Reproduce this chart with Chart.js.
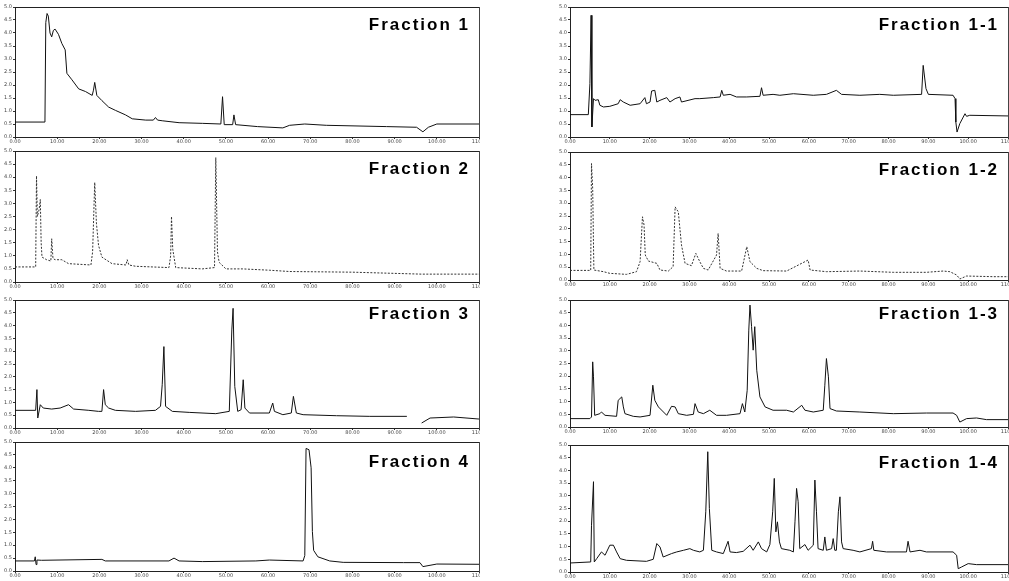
<!DOCTYPE html>
<html lang="en">
<head>
<meta charset="UTF-8">
<title>Fraction chromatograms</title>
<style>
    body {
        margin: 0;
        background: #fff;
        width: 1009px;
        height: 581px;
        overflow: hidden;
        position: relative;
        font-family: "Liberation Sans", Arial, sans-serif;
    }

    .panel {
        position: absolute;
    }

    .left {
        left: 0;
        width: 480px;
    }

    .right {
        left: 555px;
        width: 454px;
    }
</style>
</head>
<body>
<div class="panel left" style="top:4px;height:142px"><canvas id="f1"></canvas></div>
<div class="panel left" style="top:148px;height:143px"><canvas id="f2"></canvas></div>
<div class="panel left" style="top:297px;height:140px"><canvas id="f3"></canvas></div>
<div class="panel left" style="top:439px;height:141px"><canvas id="f4"></canvas></div>
<div class="panel right" style="top:4px;height:142px"><canvas id="g1"></canvas></div>
<div class="panel right" style="top:149px;height:140px"><canvas id="g2"></canvas></div>
<div class="panel right" style="top:297px;height:139px"><canvas id="g3"></canvas></div>
<div class="panel right" style="top:442px;height:139px"><canvas id="g4"></canvas></div>

<script src="https://cdn.jsdelivr.net/npm/chart.js"></script>
<script>
    // tick labels (retention time in min, detector response)
    const xTickLabels = ['0.00', '10.00', '20.00', '30.00', '40.00', '50.00', '60.00', '70.00', '80.00', '90.00', '100.00', '110.0'];
    const yTickLabels = ['0.0', '0.5', '1.0', '1.5', '2.0', '2.5', '3.0', '3.5', '4.0', '4.5', '5.0'];

    // Fraction 1
    const f1Time = [0, 7.1, 7.3, 7.6, 7.9, 8.3, 8.7, 9.1, 9.5, 10.3, 11.1, 11.9, 12.3, 13.5, 15.1, 16.7, 18.3, 18.6, 18.9, 19.4, 20.6, 22.2, 23.8, 26.2, 27.8, 31.0, 32.8, 33.3, 33.8, 34.9, 38.9, 44.4, 48.8, 49.2, 49.6, 51.6, 51.9, 52.3, 57.5, 63.5, 65.1, 68.7, 73.8, 88.1, 95.2, 96.7, 98.0, 100, 110];
    const f1Signal = [11.5, 11.5, 88, 95, 93, 80, 77, 82, 83, 79, 72, 67, 49, 44, 37, 35, 32, 36, 42, 32, 28, 23, 20.5, 17, 14, 13, 13, 15, 13, 12.5, 11, 10.5, 10, 31, 9.5, 9.5, 17, 9.5, 8, 7, 9, 10, 9, 8, 7.5, 4, 7.5, 10, 10];

    // Fraction 2
    const f2Time = [0, 4.9, 5.1, 5.3, 5.7, 6.0, 6.2, 6.4, 7.5, 8.5, 8.7, 9.0, 9.5, 11.1, 12.7, 18.0, 18.4, 18.9, 19.3, 19.8, 20.6, 23.0, 26.3, 26.6, 27.0, 28.6, 36.5, 36.9, 37.1, 37.4, 38.1, 44.4, 47.3, 47.6, 48.0, 48.4, 50.0, 54.0, 60.3, 65.1, 80, 96.4, 110];
    const f2Signal = [11.5, 11.5, 81, 50, 55, 63, 30, 19, 17, 16, 33, 18, 17, 17, 14, 13, 23, 76, 45, 28, 19, 14, 13, 17, 13, 12, 11, 20, 50, 25, 11, 10, 11, 95, 23, 15, 10, 10, 9, 8, 7.5, 6, 6];

    // Fraction 3
    const f3Time = [0, 4.9, 5.2, 5.4, 6.0, 6.7, 8.7, 10.7, 12.7, 13.9, 17.5, 19.8, 20.6, 21.0, 21.4, 22.2, 23.8, 28.6, 33.3, 34.5, 34.9, 35.3, 35.7, 37.3, 41.3, 47.6, 50.8, 51.4, 51.7, 52.1, 52.8, 53.6, 54.1, 54.5, 55.6, 60.3, 61.1, 61.5, 63.5, 65.5, 66.0, 66.7, 68.3, 76.2, 84.1, 92.9, 94.5, 96.4, 98.4, 104, 110];
    const f3Signal = [13.8, 13.8, 30, 7.8, 18.2, 15.6, 14.8, 15.6, 18.2, 14.8, 13.8, 13, 13, 30, 18.2, 15.6, 13.8, 13, 13.8, 16.9, 33.8, 63.6, 16.9, 13, 12.2, 11.2, 13, 76.6, 93.5, 32.5, 13, 14.3, 37.7, 15.6, 11.7, 11.7, 19.5, 13, 10.4, 11.7, 24.7, 11.7, 10.4, 9.6, 9.1, 9.1, null, 3.9, 7.8, 8.6, 7];

    // Fraction 4
    const f4Time = [0, 4.6, 4.8, 5.0, 5.2, 6.3, 20.6, 21.4, 36.5, 37.7, 38.9, 44.4, 57.1, 60.3, 68.3, 68.7, 69.0, 69.7, 70.2, 70.5, 70.8, 71.8, 74.6, 77.8, 92.1, 96.0, 96.7, 100, 110];
    const f4Signal = [7.8, 7.8, 11, 5, 8.5, 8.3, 9, 7.8, 7.8, 10, 7.8, 7.3, 7.8, 8.5, 7.8, 12, 95, 94, 80, 30.6, 16, 11, 7.8, 6.7, 6.5, 6.5, 3.4, 5.4, 5.2];

    // Fraction 1-1
    const g1Time = [0, 4.6, 5.0, 5.3, 5.5, 5.9, 6.3, 7.1, 7.5, 8.4, 10.0, 12.1, 12.6, 13.4, 15.1, 17.6, 18.8, 19.2, 20.1, 20.5, 21.3, 21.8, 22.6, 24.3, 25.1, 26.4, 27.6, 28.0, 31.4, 32.6, 36.0, 37.7, 38.1, 38.5, 40.2, 41.8, 44.4, 47.7, 48.1, 48.5, 51.0, 52.7, 56.1, 61.1, 64.4, 66.9, 68.2, 72.8, 77.8, 81.2, 88.3, 88.7, 89.4, 90.0, 96.2, 96.7, 96.9, 97.2, 97.9, 99.2, 99.6, 100.4, 110];
    const g1Signal = [17.2, 17.2, 41, 93.6, 7.7, 29.5, 28.2, 28.7, 24.4, 23.1, 23.6, 25.6, 28.7, 26.9, 24.4, 25.6, 30.3, 25.6, 26.9, 35.4, 35.9, 26.9, 28.2, 30.3, 26.9, 29.5, 30.8, 26.9, 29.5, 29.5, 30.3, 30.8, 35.9, 32.1, 32.8, 30.8, 30.8, 31.3, 37.9, 32.1, 32.8, 32.1, 33.3, 32.1, 32.8, 35.9, 32.8, 32.1, 32.8, 32.1, 32.8, 55.1, 37.2, 32.8, 32.1, 29.5, 11.5, 3.8, 10.3, 17.9, 15.9, 16.7, 16.2];

    // Fraction 1-2
    const g2Time = [0, 5.2, 5.4, 5.7, 5.9, 6.0, 8.4, 10.0, 14.2, 16.7, 17.6, 18.2, 18.6, 18.9, 19.7, 21.8, 22.6, 24.7, 25.9, 26.4, 27.2, 28.0, 28.9, 30.5, 31.6, 32.6, 33.5, 34.7, 36.8, 37.2, 37.7, 39.3, 43.1, 44.4, 45.2, 46.9, 48.5, 54.4, 59.8, 60.3, 64.4, 72.8, 81.2, 89.5, 93.7, 95.4, 97.1, 97.9, 99.6, 106.3, 110];
    const g2Signal = [7.5, 7.5, 91, 71.4, 27.3, 7.8, 6.5, 5.2, 4.4, 6.5, 14.3, 49.4, 42.9, 19.5, 14.8, 13, 7.8, 7, 10.4, 57.1, 53.2, 27.3, 13, 11.2, 20.8, 14.3, 9.1, 7.8, 19.5, 36.4, 9.1, 7, 7, 26, 14.3, 9.1, 7.3, 7, 15.6, 7.8, 6.5, 7, 6, 6, 7, 6.5, 3.9, 0.8, 3.1, 2.6, 2.6];

    // Fraction 1-3
    const g3Time = [0, 5.0, 5.4, 5.7, 5.9, 6.2, 7.5, 7.9, 8.8, 11.7, 12.1, 13.0, 13.4, 13.8, 15.9, 17.6, 20.1, 20.8, 21.3, 22.2, 24.3, 25.5, 26.4, 27.2, 29.3, 31.0, 31.4, 32.2, 33.5, 35.1, 36.8, 39.3, 42.7, 43.3, 43.9, 44.5, 44.9, 45.2, 45.6, 46.0, 46.4, 46.9, 47.7, 49.0, 51.0, 54.4, 56.1, 58.2, 59.0, 61.1, 63.6, 64.0, 64.4, 64.9, 65.3, 66.9, 72.8, 81.2, 89.5, 96.2, 97.1, 97.9, 99.6, 102.1, 104.6, 110];
    const g3Signal = [6.6, 6.6, 7.9, 51.3, 39.5, 9.2, 10.5, 11.8, 9.2, 8.4, 21, 23.7, 15.8, 10.5, 8.4, 7.9, 9.2, 32.9, 21, 15.8, 9.2, 16.3, 15.8, 10.5, 9.2, 10, 18.4, 11.8, 10.5, 13.2, 9.2, 9.2, 10.5, 18.4, 11.8, 28.9, 76.3, 96, 79, 60.5, 79, 44.7, 23.7, 15.8, 13.2, 13.2, 11.8, 17.1, 13.2, 11.8, 13.2, 32.9, 53.9, 39.5, 14.5, 12.6, 11.8, 10.5, 11, 11, 9.2, 3.9, 6.6, 7.1, 5.8, 5.8];

    // Fraction 1-4
    const g4Time = [0, 5.2, 5.4, 5.9, 6.1, 6.7, 7.9, 8.8, 10.0, 10.9, 11.7, 12.6, 14.2, 19.2, 20.9, 21.8, 22.6, 23.4, 25.5, 26.8, 28.5, 30.1, 31.0, 32.6, 33.5, 34.1, 34.6, 35.0, 35.6, 36.8, 38.5, 39.7, 40.2, 41.8, 43.5, 45.2, 46.0, 47.3, 48.1, 49.4, 50.2, 50.9, 51.3, 51.7, 52.1, 52.6, 53.1, 55.2, 56.1, 56.5, 56.9, 57.3, 57.7, 59.0, 59.8, 61.1, 61.5, 61.9, 62.3, 63.6, 64.0, 64.4, 65.7, 66.1, 66.5, 66.9, 67.4, 67.8, 68.2, 68.6, 71.1, 72.8, 75.7, 76.0, 76.3, 79.5, 84.5, 84.9, 85.4, 87.9, 89.5, 96.2, 97.1, 97.5, 98.3, 100, 102.1, 110];
    const g4Signal = [7.1, 7.9, 36.8, 71.1, 7.9, 10.5, 15.8, 13.2, 21.1, 21.1, 15.8, 10.5, 9.2, 8.4, 10, 22.4, 19.7, 11.8, 14.5, 15.8, 17.1, 18.4, 17.1, 15.8, 17.1, 47.4, 94.7, 50, 17.1, 15.8, 14.5, 24.2, 15.8, 15.3, 16.3, 21.1, 17.1, 23.7, 18.4, 15.8, 21.6, 47.4, 73.7, 31.6, 39.5, 23.7, 18.4, 17.1, 15.8, 39.5, 65.8, 55.3, 18.4, 21.6, 17.1, 21.1, 72.4, 47.4, 18.4, 17.1, 27.6, 17.1, 18.4, 26.3, 17.1, 17.1, 47.4, 59.2, 23.7, 18.4, 17.1, 15.8, 18.4, 24.2, 17.1, 15.8, 15.8, 24.2, 15.8, 17.1, 15.8, 15.8, 13.2, 2.6, 3.9, 6.6, 5.8, 5.8];

    // draws the "Fraction n" label inside the plot, top right
    const fractionTitle = {
        id: 'fractionTitle',
        afterDraw(chart, args, opts) {
            const { ctx, chartArea } = chart;
            ctx.save();
            ctx.font = 'bold 17px "Liberation Sans", Arial, sans-serif';
            ctx.letterSpacing = '2px';
            ctx.fillStyle = '#000';
            ctx.textAlign = 'right';
            ctx.textBaseline = 'alphabetic';
            ctx.fillText(opts.text, chartArea.right - 9, chartArea.top + opts.dy);
            ctx.restore();
        }
    };

    const tickFont = { family: 'DejaVu Sans', size: 5 };

    function makeChart(id, title, time, signal, look) {
        const points = time.map((t, i) => ({ x: t, y: signal[i] }));
        return new Chart(document.getElementById(id), {
            type: 'line',
            data: {
                datasets: [{
                    data: points,
                    borderColor: look.color,
                    borderWidth: 1,
                    borderDash: look.dash,
                    pointRadius: 0,
                    tension: 0,
                    spanGaps: false
                }]
            },
            options: {
                responsive: true,
                maintainAspectRatio: false,
                animation: false,
                layout: { padding: 0 },
                plugins: {
                    legend: { display: false },
                    tooltip: { enabled: false },
                    fractionTitle: { text: title, dy: look.dy }
                },
                scales: {
                    x: {
                        type: 'linear',
                        position: 'bottom',
                        min: 0,
                        max: 110,
                        grid: { display: true, drawOnChartArea: false, tickLength: 2, color: '#333' },
                        border: { color: '#222', dash: [4, 3] },
                        ticks: {
                            stepSize: 10,
                            autoSkip: false,
                            maxRotation: 0,
                            padding: 0,
                            color: '#444',
                            font: tickFont,
                            callback: (v) => xTickLabels[Math.round(v / 10)]
                        },
                        afterFit: (s) => { s.height = 9; s.paddingLeft = 0; s.paddingRight = 0; }
                    },
                    y: {
                        min: 0,
                        max: 100,
                        grid: { display: true, drawOnChartArea: false, tickLength: 2, color: '#333' },
                        border: { color: '#222', dash: [2, 2] },
                        ticks: {
                            stepSize: 10,
                            padding: 1,
                            color: '#444',
                            font: tickFont,
                            callback: (v) => yTickLabels[Math.round(v / 10)]
                        },
                        afterFit: (s) => { s.width = 15; s.paddingTop = 0; s.paddingBottom = 0; }
                    },
                    xTop: {
                        type: 'linear',
                        position: 'top',
                        min: 0,
                        max: 110,
                        display: true,
                        grid: { display: false },
                        ticks: { display: false },
                        border: { color: '#222', dash: [5, 3] },
                        afterFit: (s) => { s.height = 3; }
                    },
                    yRight: {
                        position: 'right',
                        min: 0,
                        max: 100,
                        display: true,
                        grid: { display: false },
                        ticks: { display: false },
                        border: { color: '#444', dash: [2, 4] },
                        afterFit: (s) => { s.width = 1; }
                    }
                }
            },
            plugins: [fractionTitle]
        });
    }

    const solid = { color: '#111', dash: [], dy: 23 };
    const faint = { color: '#333', dash: [2, 1.5], dy: 23 };

    makeChart('f1', 'Fraction 1', f1Time, f1Signal, solid);
    makeChart('f2', 'Fraction 2', f2Time, f2Signal, faint);
    makeChart('f3', 'Fraction 3', f3Time, f3Signal, { color: '#111', dash: [], dy: 19 });
    makeChart('f4', 'Fraction 4', f4Time, f4Signal, { color: '#111', dash: [], dy: 25 });
    makeChart('g1', 'Fraction 1-1', g1Time, g1Signal, solid);
    makeChart('g2', 'Fraction 1-2', g2Time, g2Signal, faint);
    makeChart('g3', 'Fraction 1-3', g3Time, g3Signal, { color: '#111', dash: [], dy: 19 });
    makeChart('g4', 'Fraction 1-4', g4Time, g4Signal, solid);
</script>
</body>
</html>
